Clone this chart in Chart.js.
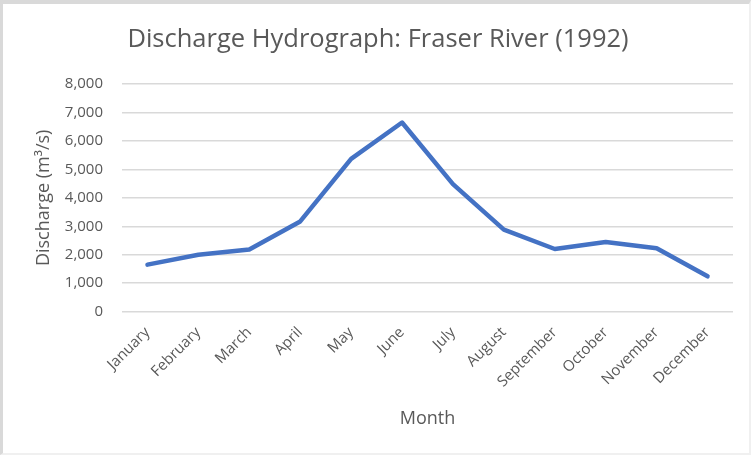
<!DOCTYPE html>
<html>
<head>
<meta charset="utf-8">
<script src="https://cdn.jsdelivr.net/npm/chart.js@4"></script>
<style>
  html, body { margin: 0; padding: 0; background: #fff; }
  #chart { position: absolute; left: 0; top: 0; }
  #frame {
    position: absolute; left: 0; top: 0; width: 751px; height: 455px;
    box-sizing: border-box; pointer-events: none;
    border-top: 4px solid #d9d9d9; border-left: 3px solid #d9d9d9;
    border-right: 2px solid #f0f0f0; border-bottom: 2px solid #f0f0f0;
  }
</style>
</head>
<body>
<canvas id="chart" width="751" height="455"></canvas>
<div id="frame"></div>
<script>
const months = ["January", "February", "March", "April", "May", "June",
  "July", "August", "September", "October", "November", "December"];
const discharge = [1650, 2000, 2180, 3170, 5370, 6650, 4480, 2880, 2200, 2450, 2230, 1240];
const yTicks = [0, 1000, 2000, 3000, 4000, 5000, 6000, 7000, 8000];

const textColor = "#595959";
const gridColor = "#d9d9d9";
const font = "'Open Sans', Lato, sans-serif";

new Chart(document.getElementById("chart"), {
  type: "line",
  data: {
    labels: months,
    datasets: [{
      label: "Discharge",
      data: discharge,
      borderColor: "#4472c4",
      borderWidth: 4.5,
      pointRadius: 0,
      tension: 0,
      borderCapStyle: "round",
      borderJoinStyle: "round",
    }],
  },
  options: {
    responsive: false,
    animation: false,
    layout: { autoPadding: false, padding: { left: 23, right: 18, top: 4, bottom: 25 } },
    plugins: {
      legend: { display: false },
      tooltip: { enabled: false },
      title: {
        display: true,
        text: "Discharge Hydrograph: Fraser River (1992)",
        color: textColor,
        font: { family: font, size: 25.5, weight: "normal" },
        padding: { top: 20, bottom: 29.5 },
      },
    },
    scales: {
      x: {
        offset: true,
        grid: { display: false },
        border: { display: false },
        ticks: {
          color: textColor,
          font: { family: font, size: 15 },
          minRotation: 45, maxRotation: 45,
          padding: 4,
        },
        title: {
          display: true, text: "Month", color: textColor,
          font: { family: font, size: 18 },
          padding: { top: 13.5, bottom: 0 },
        },
      },
      y: {
        min: 0, max: 8000,
        afterBuildTicks: axis => { axis.ticks = yTicks.map(v => ({ value: v })); },
        // fixed axis width so the plot starts where the labels end plus a gap
        afterFit: axis => { axis.width = 99; },
        grid: { color: gridColor, lineWidth: 1.5, drawTicks: false },
        border: { display: false },
        ticks: {
          color: textColor,
          font: { family: font, size: 15 },
          padding: 19,
          callback: v => v.toLocaleString("en-US"),
        },
        title: {
          display: true, text: "Discharge (m³/s)", color: textColor,
          font: { family: font, size: 18 },
          padding: { top: 10, bottom: 0 },
        },
      },
    },
  },
});
</script>
</body>
</html>
